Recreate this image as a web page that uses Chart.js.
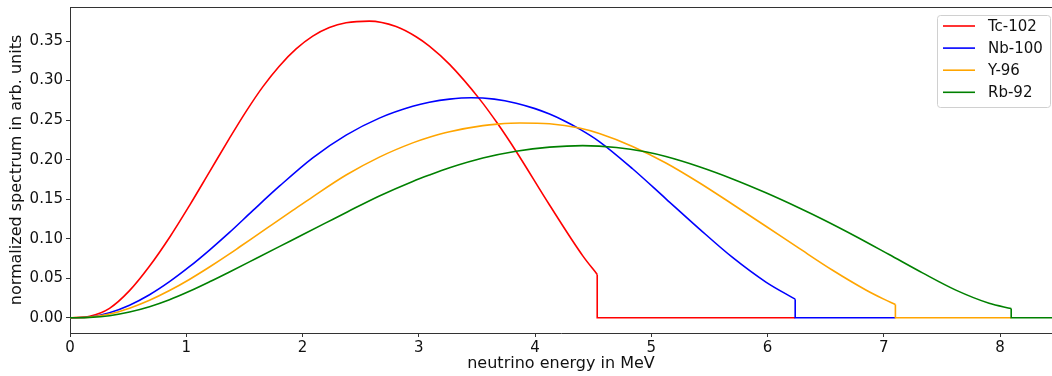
<!DOCTYPE html>
<html>
<head>
<meta charset="utf-8">
<script src="https://cdn.jsdelivr.net/npm/chart.js@4.4.1/dist/chart.umd.min.js"></script>
<style>
  html, body { margin: 0; padding: 0; background: #fff; }
  #wrap { width: 1052px; height: 376px; }
</style>
</head>
<body>
<div id="wrap"><canvas id="spectrum"></canvas></div>
<script>
// neutrino energy (MeV) and normalized spectrum
var tcE = [0, 0.17, 0.34, 0.51, 0.68, 0.86, 1.03, 1.2, 1.37, 1.515, 1.658, 1.8, 1.945, 2.088, 2.231, 2.375, 2.575, 2.805, 2.977, 3.091, 3.265, 3.525, 3.678, 3.837, 4.125, 4.411, 4.535];
var tcY = [0, 0.002, 0.012, 0.034, 0.0645, 0.1025, 0.1425, 0.1845, 0.2265, 0.261, 0.292, 0.3182, 0.34, 0.3562, 0.3671, 0.3731, 0.3752, 0.3683, 0.3554, 0.3435, 0.3204, 0.2762, 0.2456, 0.2106, 0.1426, 0.0783, 0.0549];

var nbE = [0, 0.168, 0.34, 0.512, 0.684, 0.856, 1.027, 1.2, 1.372, 1.572, 1.801, 2.088, 2.375, 2.661, 2.948, 3.091, 3.265, 3.45, 3.65, 3.838, 4.0, 4.125, 4.25, 4.381, 4.553, 4.839, 5.126, 5.413, 5.699, 5.986, 6.238];
var nbY = [0, 0.001, 0.0065, 0.016, 0.0292, 0.0457, 0.0646, 0.0857, 0.108, 0.1355, 0.1664, 0.2023, 0.231, 0.2525, 0.2674, 0.2725, 0.2765, 0.2783, 0.2765, 0.2714, 0.2645, 0.2576, 0.2492, 0.2389, 0.2229, 0.1885, 0.1505, 0.1125, 0.0763, 0.0452, 0.0236];

var y96E = [0, 0.168, 0.34, 0.512, 0.684, 0.856, 1.027, 1.2, 1.372, 1.458, 1.7, 1.916, 2.088, 2.375, 2.661, 2.948, 3.091, 3.265, 3.551, 3.678, 3.87, 4.125, 4.381, 4.553, 4.839, 5.126, 5.413, 5.699, 5.986, 6.273, 6.56, 6.846, 7.0, 7.10];
var y96Y = [0, 0.0009, 0.0048, 0.0122, 0.0222, 0.0345, 0.0485, 0.0642, 0.0808, 0.0895, 0.114, 0.1358, 0.153, 0.1805, 0.2032, 0.2212, 0.2283, 0.2353, 0.243, 0.2449, 0.2463, 0.2453, 0.2399, 0.233, 0.2167, 0.1958, 0.1708, 0.1436, 0.1158, 0.0877, 0.0601, 0.0352, 0.0236, 0.0168];

var rbE = [0, 0.168, 0.34, 0.512, 0.684, 0.856, 1.027, 1.2, 1.372, 1.6, 1.9, 2.2, 2.389, 2.661, 2.948, 3.091, 3.265, 3.551, 3.837, 4.125, 4.41, 4.7, 4.95, 5.126, 5.413, 5.699, 5.986, 6.273, 6.473, 6.76, 7.046, 7.333, 7.62, 7.906, 8.096];
var rbY = [0, 0.0005, 0.0027, 0.0073, 0.014, 0.0228, 0.0335, 0.0455, 0.058, 0.075, 0.0975, 0.12, 0.1342, 0.1541, 0.1725, 0.1806, 0.1897, 0.202, 0.2106, 0.2158, 0.2177, 0.2154, 0.2099, 0.2039, 0.191, 0.1756, 0.1581, 0.1389, 0.1247, 0.1029, 0.08, 0.0568, 0.035, 0.0184, 0.0117];

var xTicks = [0, 1, 2, 3, 4, 5, 6, 7, 8];
var yTicks = [0, 0.05, 0.10, 0.15, 0.20, 0.25, 0.30, 0.35];
var xTailEnd = 8.6;

var series = [
  { label: "Tc-102", color: "#ff0000", e: tcE, v: tcY },
  { label: "Nb-100", color: "#0000ff", e: nbE, v: nbY },
  { label: "Y-96", color: "#ffa500", e: y96E, v: y96Y },
  { label: "Rb-92", color: "#008000", e: rbE, v: rbY }
];

var font = "'DejaVu Sans', sans-serif";

var datasets = [];
series.forEach(function (s, i) {
  var n = s.e.length - 1;
  // the zero tail is hidden under the next series past its cut-off
  var next = series[i + 1];
  var tailEnd = next ? next.e[next.e.length - 1] : xTailEnd;
  // later series drawn on top, like matplotlib
  datasets.push({
    label: s.label,
    data: s.e.map(function (x, k) { return { x: x, y: s.v[k] }; }),
    borderColor: s.color,
    borderWidth: 1.6,
    pointRadius: 0,
    showLine: true,
    cubicInterpolationMode: "monotone",
    order: series.length - i
  });
  // cut-off drop and flat zero tail
  datasets.push({
    label: "",
    data: [{ x: s.e[n], y: s.v[n] }, { x: s.e[n], y: 0 }, { x: tailEnd, y: 0 }],
    borderColor: s.color,
    borderWidth: 1.6,
    pointRadius: 0,
    showLine: true,
    tension: 0,
    order: series.length - i
  });
});

var frameAndLegend = {
  id: "frameAndLegend",
  afterDatasetsDraw: function (chart) {
    var ctx = chart.ctx, a = chart.chartArea;
    ctx.save();
    ctx.strokeStyle = "#333";
    ctx.lineWidth = 1;
    ctx.beginPath();
    ctx.moveTo(a.left, a.top + 0.5);
    ctx.lineTo(a.right, a.top + 0.5);
    ctx.stroke();

    // legend box, upper right
    var bx = 937.5, by = 15.5, bw = 113, bh = 92;
    ctx.fillStyle = "rgba(255,255,255,0.8)";
    ctx.strokeStyle = "#d0d0d0";
    ctx.beginPath();
    ctx.roundRect(bx, by, bw, bh, 3);
    ctx.fill();
    ctx.stroke();

    ctx.font = "15px " + font;
    ctx.textBaseline = "middle";
    ctx.textAlign = "left";
    series.forEach(function (s, i) {
      var yy = 26 + i * 22.1;
      ctx.strokeStyle = s.color;
      ctx.lineWidth = 1.6;
      ctx.beginPath();
      ctx.moveTo(943, yy);
      ctx.lineTo(975, yy);
      ctx.stroke();
      ctx.fillStyle = "#111";
      ctx.fillText(s.label, 988, yy + 1);
    });
    ctx.restore();
  }
};

new Chart(document.getElementById("spectrum").getContext("2d"), {
  type: "scatter",
  data: { datasets: datasets },
  options: {
    responsive: true,
    maintainAspectRatio: false,
    animation: false,
    layout: { padding: { top: 7, right: 0, left: 0, bottom: 0 } },
    plugins: { legend: { display: false }, tooltip: { enabled: false } },
    scales: {
      x: {
        type: "linear",
        min: 0,
        max: 8.447,
        afterFit: function (s) { s.height = 43; s.paddingLeft = 0; s.paddingRight = 0; },
        afterBuildTicks: function (s) { s.ticks = xTicks.map(function (v) { return { value: v }; }); },
        grid: { drawOnChartArea: false, tickLength: 4, tickColor: "#333" },
        border: { display: true, color: "#333", width: 1 },
        ticks: { color: "#111", font: { family: font, size: 15 }, padding: 2, maxRotation: 0 },
        title: { display: true, text: "neutrino energy in MeV", color: "#111", font: { family: font, size: 16 }, padding: { top: 0, bottom: 3 } }
      },
      y: {
        type: "linear",
        min: -0.0192,
        max: 0.393,
        afterFit: function (s) { s.width = 70; s.paddingTop = 0; s.paddingBottom = 0; },
        afterBuildTicks: function (s) { s.ticks = yTicks.map(function (v) { return { value: v }; }); },
        grid: { drawOnChartArea: false, tickLength: 4, tickColor: "#333" },
        border: { display: true, color: "#333", width: 1 },
        ticks: { color: "#111", font: { family: font, size: 15 }, padding: 3,
          callback: function (v) { return Number(v).toFixed(2); } },
        title: { display: true, text: "normalized spectrum in arb. units", color: "#111", font: { family: font, size: 16 }, padding: { top: 7, bottom: 0 } }
      }
    }
  },
  plugins: [frameAndLegend]
});
</script>
</body>
</html>
